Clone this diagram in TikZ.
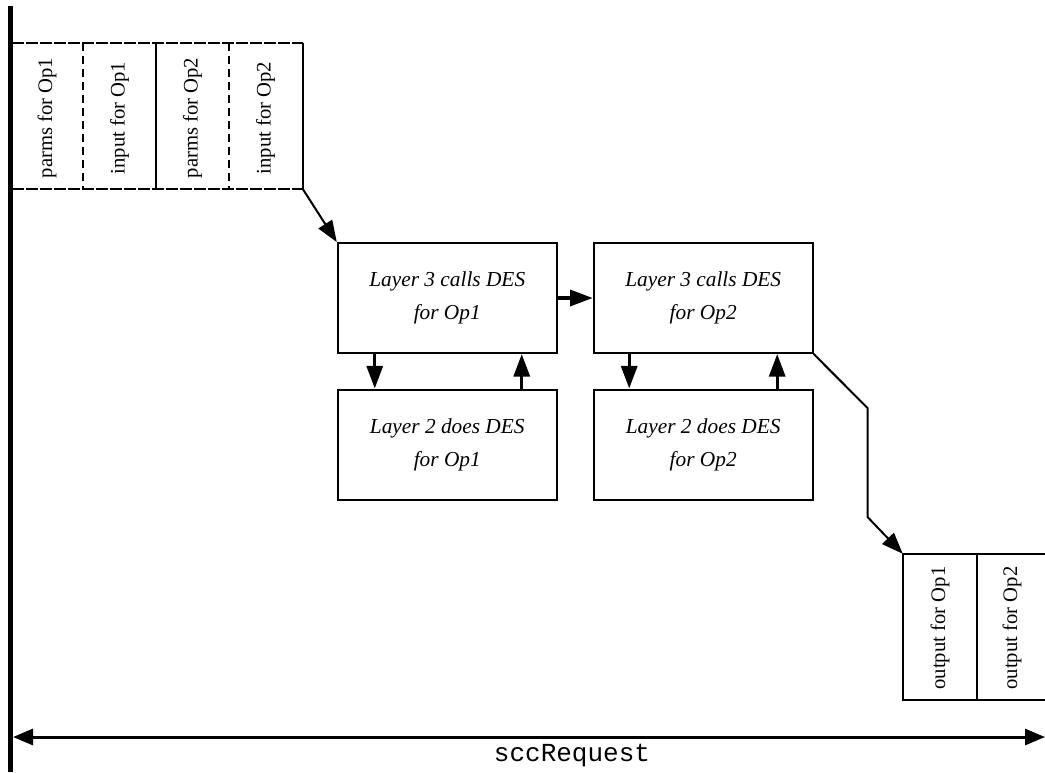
\documentclass[tikz,border=0pt]{standalone}
\usepackage{fontspec}
\setmainfont{Liberation Serif}
\setmonofont{Liberation Mono}
\usetikzlibrary{arrows.meta,calc}
\begin{document}
\begin{tikzpicture}[x=0.75pt,y=-0.75pt,
  box/.style={draw,line width=1.5pt,minimum width=164.25pt,minimum height=82.5pt,inner sep=0pt,align=center,font=\fontsize{16}{24.75}\selectfont\itshape},
  cell/.style={rotate=90,inner sep=0pt,font=\fontsize{15.5}{18}\selectfont},
  frame/.style={draw=none,inner sep=0pt},
  edge/.style={line width=1.5pt},
  dsh/.style={line width=1.5pt,dash pattern=on 6pt off 3.75pt},
  conn/.style={line width=1.5pt,-{Triangle[length=16pt,width=12pt]}},
  vconn/.style={line width=2.5pt,-{Triangle[length=17pt,width=12pt]}}
]
\useasboundingbox (0,0) rectangle (1045,772);

% left axis
\coordinate (vt) at (10,6);
\coordinate (vb) at (10,772);
\draw[line width=3.75pt] (vt) -- (vb);

% input frame
\node[frame,minimum width=218pt,minimum height=109.5pt] (in) at (157.35,116) {};
\draw[edge,dash pattern=on 9pt off 1.5pt] (in.north west) -- (in.north east);
\draw[edge,dash pattern=on 9pt off 1.5pt] (in.south west) -- (in.south east);
\draw[edge] (in.north east) -- (in.south east);
\coordinate (d1t) at (82.7,43);  \coordinate (d1b) at (82.7,189);
\coordinate (d2t) at (156,43);   \coordinate (d2b) at (156,189);
\coordinate (d3t) at (228.7,43); \coordinate (d3b) at (228.7,189);
\draw[dsh] (d1t) -- (d1b);
\draw[edge] (d2t) -- (d2b);
\draw[dsh] (d3t) -- (d3b);
\node[cell] (c1) at (47,118) {parms for Op1};
\node[cell] (c2) at (119.5,118) {input for Op1};
\node[cell] (c3) at (192.5,118) {parms for Op2};
\node[cell] (c4) at (265.5,118) {input for Op2};

% layer boxes
\node[box] (A) at (447.25,298) {Layer 3 calls DES\\for Op1};
\node[box] (B) at (703.2,298) {Layer 3 calls DES\\for Op2};
\node[box] (C) at (447.25,444.5) {Layer 2 does DES\\for Op1};
\node[box] (D) at (703.2,444.5) {Layer 2 does DES\\for Op2};

% output frame
\node[frame,minimum width=108.75pt,minimum height=109.5pt] (out) at (975.5,627) {};
\draw[edge] (out.south east) -- (out.south west) -- (out.north west) -- (out.north east);
\coordinate (o1t) at (976.7,554); \coordinate (o1b) at (976.7,700);
\draw[edge] (o1t) -- (o1b);
\node[cell] (o1) at (940,628) {output for Op1};
\node[cell] (o2) at (1012,628) {output for Op2};

% connectors
\draw[conn] (in.south east) -- (A.north west);
\draw[vconn] (A.east) -- (B.west);
\draw[vconn] ($(A.south west)+(38,0)$) -- ($(C.north west)+(38,0)$);
\draw[vconn] ($(C.north east)+(-36,0)$) -- ($(A.south east)+(-36,0)$);
\draw[vconn] ($(B.south west)+(36.5,0)$) -- ($(D.north west)+(36.5,0)$);
\draw[vconn] ($(D.north east)+(-36.5,0)$) -- ($(B.south east)+(-36.5,0)$);
\coordinate (k1) at (867.5,408);
\coordinate (k2) at (867.5,517);
\draw[conn] (B.south east) -- (k1) -- (k2) -- (out.north west);

% bottom span
\coordinate (bl) at (13,737);
\coordinate (br) at (1045,737);
\draw[line width=2.25pt,{Triangle[length=15pt,width=12pt]}-{Triangle[length=15pt,width=12pt]}] (bl) -- (br);
\node[font=\ttfamily\fontsize{19.5}{20}\selectfont,inner sep=0pt] (lbl) at (572,756) {sccRequest};
\end{tikzpicture}
\end{document}
